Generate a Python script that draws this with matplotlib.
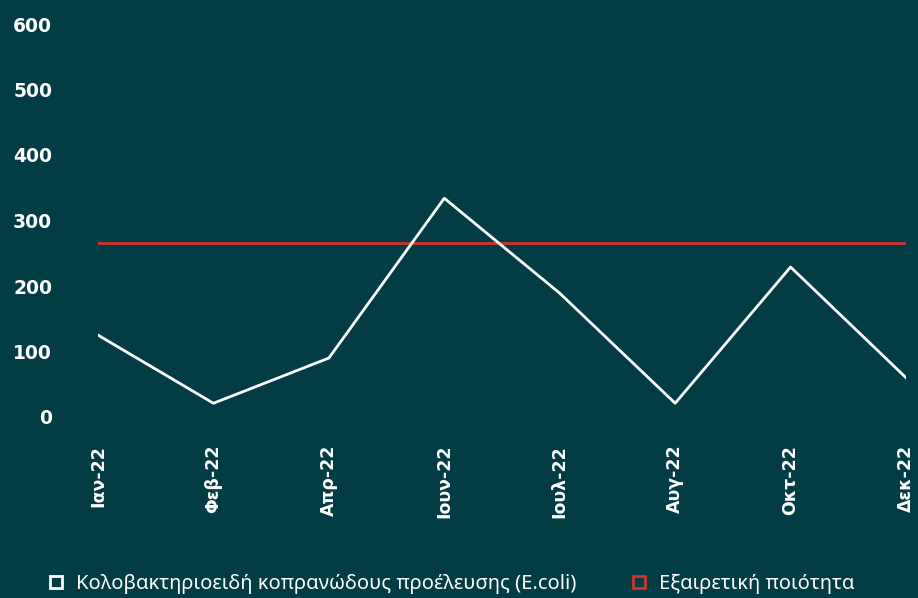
import matplotlib.pyplot as plt
from matplotlib.lines import Line2D

months = ['Ιαν-22', 'Φεβ-22', 'Απρ-22', 'Ιουν-22', 'Ιουλ-22', 'Αυγ-22', 'Οκτ-22', 'Δεκ-22']
ecoli = [125, 21, 90, 334, 189, 21, 229, 60]
excellent = [266] * len(months)
yticks = [0, 100, 200, 300, 400, 500, 600]

bg = '#023c44'
red = '#d0342c'

plt.rcParams['font.family'] = ['DejaVu Sans']

fig = plt.figure(figsize=(9.18, 5.98), dpi=100, facecolor=bg)
ax = fig.add_axes([98 / 918, 1 - 417 / 598, (906 - 98) / 918, (417 - 24) / 598])
ax.set_facecolor(bg)

x = range(len(months))
ax.plot(x, excellent, color=red, lw=2)
ax.plot(x, ecoli, color='white', lw=2)

ax.set_xlim(0, len(months) - 1)
ax.set_ylim(0, 600)
ax.set_yticks(yticks)
ax.set_yticklabels([str(v) for v in yticks], fontsize=13.5, fontweight='bold', color='white')
ax.set_xticks(list(x))
ax.set_xticklabels(months, rotation=90, fontsize=12.5, fontweight='bold', color='white')
ax.tick_params(axis='y', length=0, pad=33)
ax.tick_params(axis='x', length=0, pad=20)
for s in ax.spines.values():
    s.set_visible(False)

handles = [
    Line2D([], [], marker='s', ls='none', markersize=9, markerfacecolor=bg,
           markeredgecolor='white', markeredgewidth=2),
    Line2D([], [], marker='s', ls='none', markersize=9, markerfacecolor=bg,
           markeredgecolor=red, markeredgewidth=2),
]
labels = ['Κολοβακτηριοειδή κοπρανώδους προέλευσης (E.coli)', 'Εξαιρετική ποιότητα']
leg = fig.legend(handles, labels, loc='center left', bbox_to_anchor=(0.0305, 0.024),
                 ncol=2, frameon=False, columnspacing=2.6, handlelength=1,
                 handletextpad=0.5,
                 prop={'family': 'Noto Sans', 'size': 14.5, 'weight': 'light'})
for t in leg.get_texts():
    t.set_color('white')

fig.savefig('out.png', dpi=100, facecolor=bg)
